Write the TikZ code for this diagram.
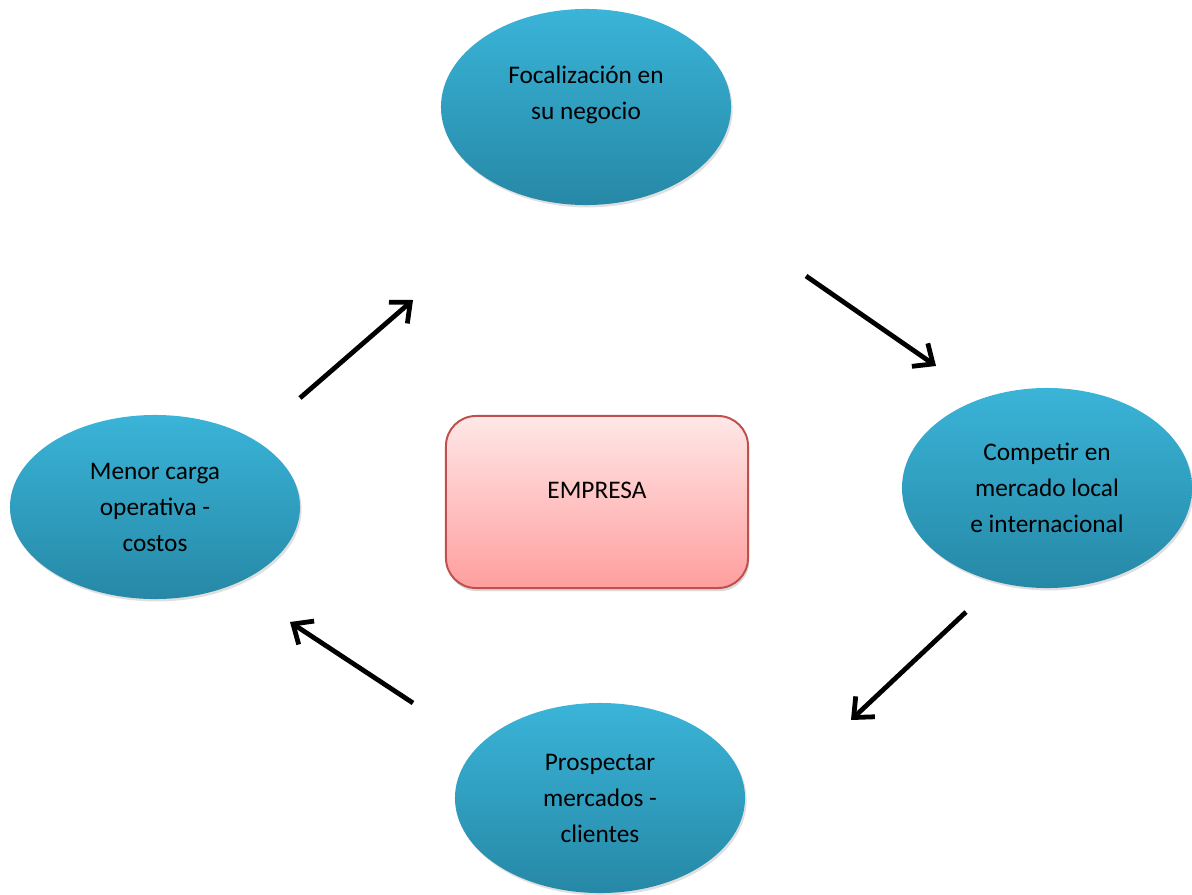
\documentclass[tikz,border=0pt]{standalone}
\usepackage{fontspec}
\setmainfont{Carlito}
\usepackage{xcolor}
\usepackage{tikz}
\usetikzlibrary{shapes.geometric,shadows,arrows.meta}
\definecolor{ideatop}{RGB}{58,180,216}
\definecolor{ideabottom}{RGB}{38,136,166}
\definecolor{coretop}{RGB}{255,231,231}
\definecolor{corebottom}{RGB}{255,158,158}
\definecolor{coreline}{RGB}{192,80,77}

\begin{document}
\begin{tikzpicture}[x=0.025cm, y=-0.025cm]
    \tikzstyle{idea} = [ellipse, minimum width=7.25cm, minimum height=4.9cm, align=center, top color=ideatop, bottom color=ideabottom, drop shadow={shadow xshift=0.04cm, shadow yshift=-0.06cm, opacity=0.25}, font=\fontsize{18}{25.6}\selectfont]
    \tikzstyle{core} = [rectangle, rounded corners=0.75cm, minimum width=7.55cm, minimum height=4.3cm, align=center, draw=coreline, line width=1.4pt, top color=coretop, bottom color=corebottom, drop shadow={shadow xshift=0.03cm, shadow yshift=-0.08cm, opacity=0.3}, font=\fontsize{18}{25.6}\selectfont]
    \tikzstyle{flow} = [-{Straight Barb[length=4mm,width=7mm]}, line width=3.4pt, black]

    \useasboundingbox (0,0) rectangle (1192,895);

    % Central company box
    \node [core, text depth=17pt] (empresa) at (597,502) {EMPRESA};

    % Surrounding ideas
    \node [idea, text depth=20pt] (focal) at (586,107) {Focalización en\\su negocio};
    \node [idea, minimum height=5cm] (competir) at (1047,488) {Competir en\\mercado local\\e internacional};
    \node [idea, minimum height=4.75cm] (prospectar) at (600,798) {Prospectar\\mercados -\\clientes};
    \node [idea, minimum height=4.6cm] (menor) at (155,507) {Menor carga\\operativa -\\costos};

    % Arrow ends
    \coordinate (a1s) at (300,398);  \coordinate (a1e) at (413,300);
    \coordinate (a2s) at (806,276);  \coordinate (a2e) at (936,366);
    \coordinate (a3s) at (966,612);  \coordinate (a3e) at (851,720);
    \coordinate (a4s) at (413,703);  \coordinate (a4e) at (290,622);

    % Cycle arrows
    \draw [flow] (a1s) -- (a1e);
    \draw [flow] (a2s) -- (a2e);
    \draw [flow] (a3s) -- (a3e);
    \draw [flow] (a4s) -- (a4e);
\end{tikzpicture}
\end{document}
